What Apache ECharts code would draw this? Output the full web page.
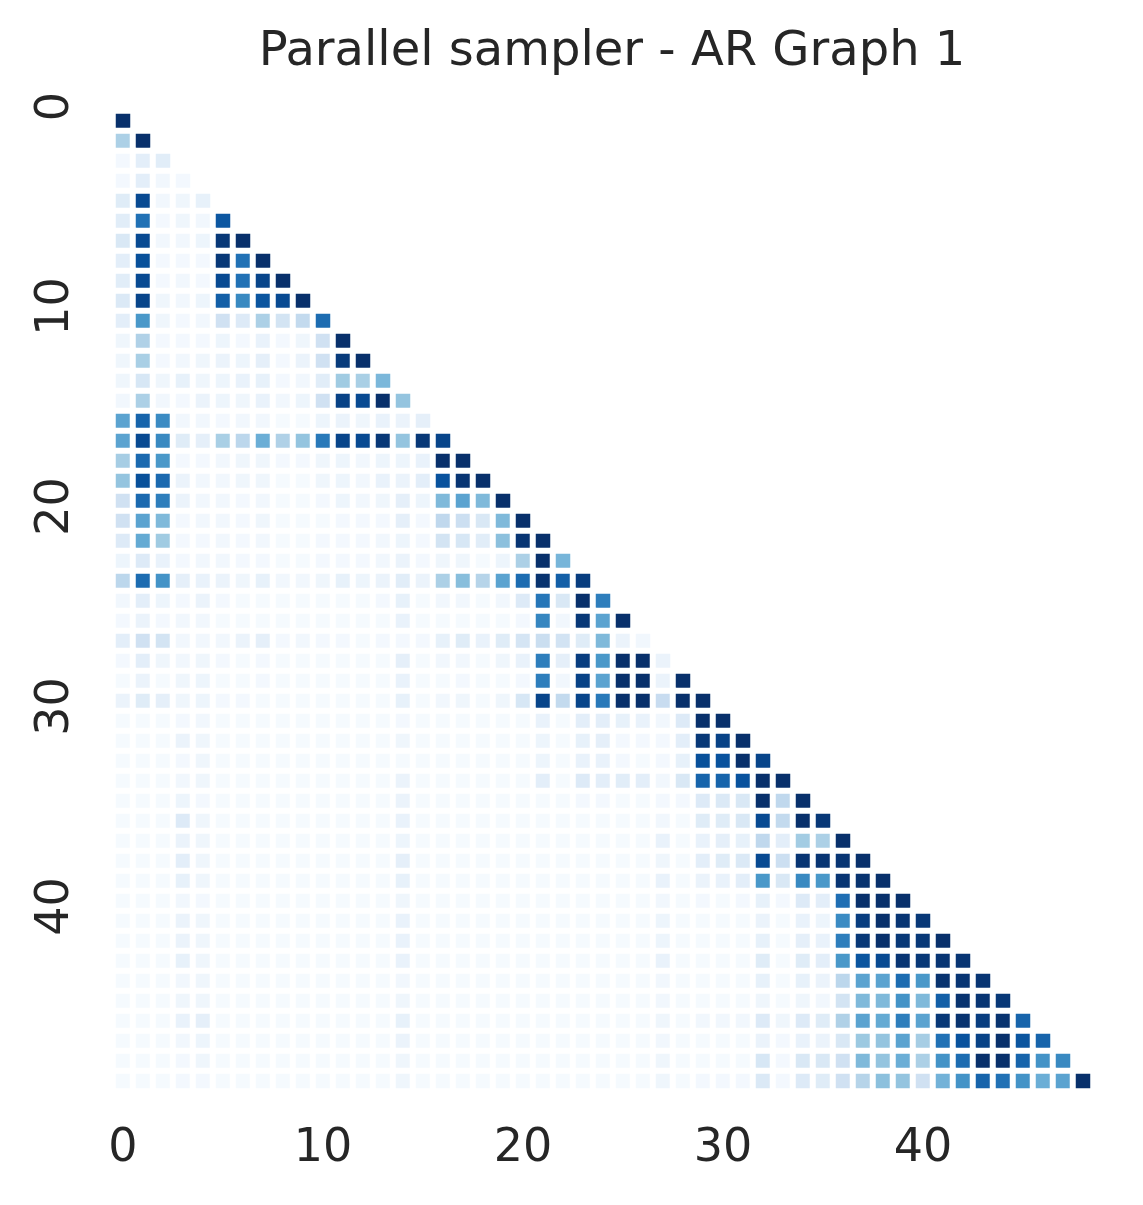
<!DOCTYPE html>
<html>
<head>
<meta charset="utf-8">
<title>Parallel sampler - AR Graph 1</title>
<script src="https://cdn.jsdelivr.net/npm/echarts@6/dist/echarts.min.js"></script>
<style>html,body{margin:0;padding:0;background:#fff;}</style>
</head>
<body>
<div id="main" style="width:1143px;height:1205px;"></div>
<script type="text/javascript">
// node labels 0..48 (same on both axes)
var nodes = ['0','1','2','3','4','5','6','7','8','9','10','11','12','13','14','15','16','17','18','19','20','21','22','23','24',
  '25','26','27','28','29','30','31','32','33','34','35','36','37','38','39','40','41','42','43','44','45','46','47','48'];

// lower triangle, one array per row (row i has i+1 cells)
var row0 = [1];
var row1 = [.33, 1];
var row2 = [.02, .1, .11];
var row3 = [.02, .1, .03, .02];
var row4 = [.12, .9, .03, .04, .08];
var row5 = [.11, .75, .02, .04, .03, .85];
var row6 = [.15, .9, .03, .03, .05, .97, 1];
var row7 = [.1, .88, .02, .02, .02, .97, .75, 1];
var row8 = [.11, .9, .02, .03, .02, .9, .75, .92, 1];
var row9 = [.14, .92, .04, .03, .05, .82, .66, .86, .9, 1];
var row10 = [.1, .6, .04, .02, .03, .2, .13, .33, .18, .26, .77];
var row11 = [.04, .32, .02, .02, .02, .05, .02, .07, .02, .04, .2, 1];
var row12 = [.04, .34, .02, .03, .04, .06, .05, .09, .02, .06, .2, .96, 1];
var row13 = [.04, .16, .04, .08, .04, .05, .07, .08, .02, .03, .11, .37, .34, .46];
var row14 = [.03, .33, .03, .02, .06, .05, .04, .07, .03, .05, .2, .93, .9, 1, .4];
var row15 = [.55, .8, .65, .03, .03, .02, .03, .03, .01, .01, .05, .06, .04, .07, .06, .09];
var row16 = [.55, .9, .66, .12, .09, .34, .28, .5, .32, .4, .72, .92, .9, .97, .4, .97, .92];
var row17 = [.35, .78, .6, .02, .02, .03, .04, .04, .02, .02, .04, .05, .03, .05, .05, .07, 1, 1];
var row18 = [.4, .88, .78, .06, .03, .03, .04, .04, .01, .01, .04, .05, .03, .07, .06, .1, .87, .98, 1];
var row19 = [.2, .78, .7, .06, .03, .03, .02, .03, .01, .01, .02, .05, .03, .04, .09, .05, .45, .55, .45, 1];
var row20 = [.2, .55, .45, .02, .03, .03, .02, .04, .01, .01, .01, .02, .02, .02, .09, .02, .27, .22, .15, .45, 1];
var row21 = [.13, .52, .37, .02, .02, .03, .02, .03, .01, .01, .02, .02, .02, .03, .05, .02, .18, .16, .11, .42, .98, 1];
var row22 = [.05, .13, .07, .02, .03, .03, .02, .02, .01, .01, .02, .02, .02, .03, .06, .02, .04, .04, .01, .05, .33, 1, .47];
var row23 = [.28, .77, .62, .09, .07, .06, .04, .08, .03, .03, .04, .08, .05, .06, .11, .06, .33, .43, .3, .55, .77, .99, .82, .95];
var row24 = [.03, .1, .05, .02, .06, .02, .01, .01, .01, .01, .01, .01, .01, .02, .08, .01, .03, .03, .01, .03, .13, .73, .15, 1, .7];
var row25 = [.02, .06, .02, .03, .03, .01, .01, .01, .01, .01, .01, .01, .01, .01, .07, .01, .01, .01, .01, .01, .02, .67, .03, .97, .55, 1];
var row26 = [.1, .2, .18, .03, .03, .03, .06, .09, .02, .03, .02, .02, .01, .02, .02, .02, .08, .12, .07, .12, .17, .23, .19, .12, .45, .06, .03];
var row27 = [.02, .1, .04, .03, .04, .02, .01, .02, .01, .01, .01, .01, .01, .01, .09, .01, .03, .03, .01, .04, .07, .7, .09, .95, .6, 1, 1, .06];
var row28 = [.01, .06, .01, .04, .05, .01, .01, .02, .01, .01, .01, .01, .01, .01, .07, .01, .01, .02, .01, .01, .02, .7, .03, .93, .55, 1, 1, .06, 1];
var row29 = [.06, .12, .09, .04, .05, .02, .02, .01, .01, .01, .01, .01, .01, .01, .08, .01, .03, .04, .01, .04, .16, .92, .26, .92, .72, 1, 1, .24, 1, 1];
var row30 = [.01, .01, .01, .02, .03, .01, .01, .01, .01, .01, .01, .01, .01, .01, .02, .01, .01, .01, .01, .01, .01, .07, .01, .1, .1, .08, .07, .03, .13, 1, 1];
var row31 = [.01, .01, .01, .06, .04, .01, .01, .01, .01, .01, .01, .01, .01, .01, .04, .01, .01, .01, .01, .01, .01, .05, .01, .08, .09, .02, .02, .02, .1, .97, .93, 1];
var row32 = [.01, .01, .01, .02, .04, .01, .01, .01, .01, .01, .01, .01, .01, .01, .01, .01, .01, .01, .01, .01, .01, .05, .01, .07, .07, .02, .01, .02, .08, .88, .87, 1, .92];
var row33 = [.01, .01, .01, .03, .04, .01, .01, .01, .01, .01, .01, .01, .01, .01, .06, .01, .01, .01, .01, .01, .01, .1, .01, .13, .1, .11, .1, .03, .15, .8, .8, .87, 1, 1];
var row34 = [.01, .01, .01, .05, .02, .01, .01, .01, .01, .01, .01, .01, .01, .01, .06, .01, .01, .01, .01, .01, .01, .01, .01, .02, .02, .01, .01, .02, .02, .13, .14, .15, 1, .27, 1];
var row35 = [.01, .01, .01, .13, .04, .01, .01, .01, .01, .01, .01, .01, .01, .01, .07, .01, .01, .01, .01, .01, .01, .01, .01, .01, .01, .01, .01, .03, .01, .12, .12, .15, .9, .26, 1, .97];
var row36 = [.01, .01, .01, .06, .04, .01, .01, .01, .01, .01, .01, .01, .01, .01, .05, .01, .01, .01, .01, .01, .01, .01, .01, .01, .01, .01, .01, .07, .01, .07, .09, .08, .27, .1, .36, .33, 1];
var row37 = [.01, .01, .01, .1, .04, .01, .01, .01, .01, .01, .01, .01, .01, .01, .09, .01, .01, .01, .01, .01, .01, .01, .01, .01, .01, .01, .01, .04, .01, .1, .12, .14, .9, .22, .98, .98, .98, 1];
var row38 = [.01, .01, .01, .08, .04, .01, .01, .01, .01, .01, .01, .01, .01, .01, .08, .01, .01, .01, .01, .01, .01, .01, .01, .01, .01, .01, .01, .07, .01, .06, .07, .1, .6, .15, .66, .6, .98, .99, 1];
var row39 = [.01, .01, .01, .03, .02, .01, .01, .01, .01, .01, .01, .01, .01, .01, .04, .01, .01, .01, .01, .01, .01, .01, .01, .01, .01, .01, .01, .03, .01, .02, .01, .02, .08, .02, .13, .1, .76, 1, 1, 1];
var row40 = [.01, .01, .01, .06, .04, .01, .01, .01, .01, .01, .01, .01, .01, .01, .07, .01, .01, .01, .01, .01, .01, .01, .01, .01, .01, .01, .01, .05, .01, .01, .01, .01, .06, .01, .07, .05, .65, .95, 1, .98, .97];
var row41 = [.01, .01, .01, .06, .04, .01, .01, .01, .01, .01, .01, .01, .01, .01, .07, .01, .01, .01, .01, .01, .01, .01, .01, .01, .01, .01, .01, .05, .01, .01, .01, .01, .08, .01, .09, .07, .7, .97, 1, .97, .97, 1];
var row42 = [.01, .01, .01, .08, .04, .01, .01, .01, .01, .01, .01, .01, .01, .01, .07, .01, .01, .01, .01, .01, .01, .01, .01, .01, .01, .01, .01, .07, .01, .01, .01, .01, .12, .01, .12, .1, .6, .86, .9, .98, .97, .98, .98];
var row43 = [.01, .01, .01, .03, .04, .01, .01, .01, .01, .01, .01, .01, .01, .01, .03, .01, .01, .01, .01, .01, .01, .01, .01, .01, .01, .01, .01, .03, .01, .01, .01, .01, .08, .01, .08, .06, .28, .55, .55, .77, .6, .99, .98, .98];
var row44 = [.01, .01, .01, .04, .04, .01, .01, .01, .01, .01, .01, .01, .01, .01, .04, .01, .01, .01, .01, .01, .01, .01, .01, .01, .01, .01, .01, .03, .01, .01, .01, .01, .04, .01, .04, .03, .18, .45, .45, .62, .45, .82, .99, .98, .97];
var row45 = [.01, .01, .01, .07, .09, .01, .01, .01, .01, .01, .01, .01, .01, .01, .08, .01, .01, .01, .01, .01, .01, .01, .01, .01, .01, .01, .01, .04, .01, .03, .03, .03, .13, .04, .13, .12, .32, .55, .52, .7, .55, .97, .99, .95, .99, .8];
var row46 = [.01, .01, .01, .03, .05, .01, .01, .01, .01, .01, .01, .01, .01, .01, .06, .01, .01, .01, .01, .01, .01, .01, .01, .01, .01, .01, .01, .03, .01, .01, .01, .01, .06, .02, .07, .06, .15, .38, .4, .55, .35, .75, .87, .93, 1, .86, .8];
var row47 = [.01, .01, .01, .02, .04, .01, .01, .01, .01, .01, .01, .01, .01, .01, .04, .01, .01, .01, .01, .01, .01, .01, .01, .01, .01, .01, .01, .04, .01, .01, .01, .01, .16, .02, .15, .15, .2, .45, .4, .5, .33, .62, .77, 1, 1, .8, .62, .66];
var row48 = [.01, .01, .01, .02, .02, .01, .01, .01, .01, .01, .01, .01, .01, .01, .04, .01, .01, .01, .01, .01, .01, .01, .01, .01, .01, .01, .01, .04, .01, .02, .02, .02, .14, .02, .13, .12, .2, .3, .42, .4, .2, .48, .62, .8, .75, .62, .5, .55, 1];

var rows = [row0, row1, row2, row3, row4, row5, row6, row7, row8, row9, row10, row11, row12, row13, row14, row15,
  row16, row17, row18, row19, row20, row21, row22, row23, row24, row25, row26, row27, row28, row29, row30, row31,
  row32, row33, row34, row35, row36, row37, row38, row39, row40, row41, row42, row43, row44, row45, row46, row47, row48];

var blues = ['#f7fbff', '#deebf7', '#c6dbef', '#9ecae1', '#6baed6', '#4292c6', '#2171b5', '#08519c', '#08306b'];

// [x, y, value] for the heatmap
var cells = [];
for (var i = 0; i < rows.length; i++) {
    for (var j = 0; j < rows[i].length; j++) {
        cells.push([j, i, rows[i][j]]);
    }
}

var font = 'DejaVu Sans';
var myChart = echarts.init(document.getElementById('main'));

var option = {
    backgroundColor: '#ffffff',
    animation: false,
    title: {
        text: 'Parallel sampler - AR Graph 1',
        left: 607,
        top: 24,
        textAlign: 'center',
        textStyle: { fontFamily: font, fontSize: 48, fontWeight: 'normal', color: '#262626' }
    },
    grid: { left: 113, top: 111, width: 980, height: 980 },
    xAxis: {
        type: 'category',
        data: nodes,
        axisLine: { show: false },
        axisTick: { show: false },
        splitLine: { show: false },
        axisLabel: { interval: 9, margin: 35, fontFamily: font, fontSize: 46, color: '#262626' }
    },
    yAxis: {
        type: 'category',
        data: nodes,
        inverse: true,
        axisLine: { show: false },
        axisTick: { show: false },
        splitLine: { show: false },
        axisLabel: { interval: 9, rotate: 90, margin: 34, padding: [0, 0, 0, 29],
            fontFamily: font, fontSize: 46, color: '#262626' }
    },
    visualMap: {
        show: false,
        type: 'continuous',
        min: 0,
        max: 1,
        inRange: { color: blues }
    },
    series: [{
        type: 'heatmap',
        data: cells,
        itemStyle: { borderColor: '#ffffff', borderWidth: 6 },
        emphasis: { disabled: true }
    }]
};

myChart.setOption(option);
</script>
</body>
</html>
